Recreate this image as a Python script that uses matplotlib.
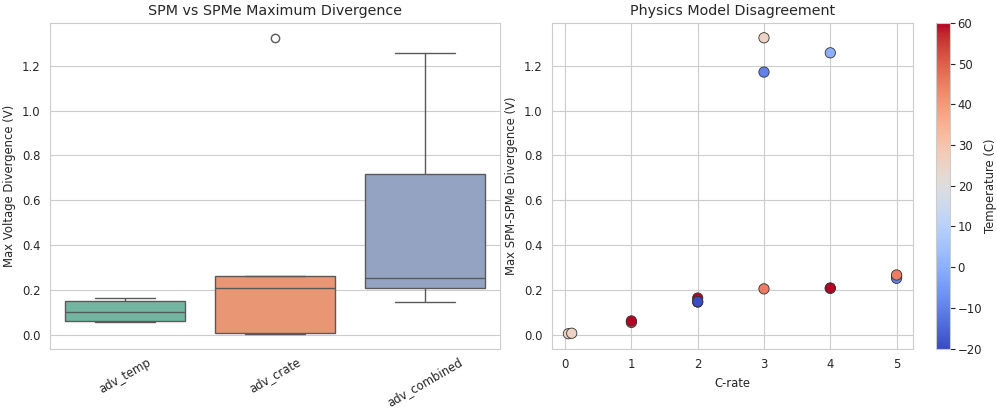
import matplotlib
matplotlib.use("Agg")
import matplotlib.pyplot as plt
import seaborn as sns
import pandas as pd

# one row per simulated case
groups = ['adv_temp'] * 4 + ['adv_crate'] * 5 + ['adv_combined'] * 7
crates = [1, 1, 2, 2,
          0.05, 0.1, 4, 5, 3,
          2, 3, 4, 5, 5, 3, 4]
temps = [50, 60, 60, -20,
         25, 25, 25, 25, 25,
         -20, 45, 60, -10, 45, -10, 0]
divergence = [0.055, 0.062, 0.164, 0.146,
              0.005, 0.007, 0.207, 0.261, 1.325,
              0.148, 0.205, 0.209, 0.252, 0.267, 1.172, 1.258]
order = ['adv_temp', 'adv_crate', 'adv_combined']

df = pd.DataFrame({'group': groups, 'crate': crates, 'temp': temps, 'div': divergence})

sns.set_style("whitegrid")
plt.rcParams['font.size'] = 8.4
plt.rcParams['axes.titlesize'] = 10.3
plt.rcParams['axes.labelsize'] = 8.4
plt.rcParams['xtick.labelsize'] = 8.4
plt.rcParams['ytick.labelsize'] = 8.4

W, H = 997, 408
fig = plt.figure(figsize=(W / 100, H / 100), dpi=100)
bot = 1 - 348.5 / H
hgt = 325.5 / H
ax1 = fig.add_axes([50 / W, bot, 450 / W, hgt])
ax2 = fig.add_axes([552 / W, bot, 361 / W, hgt])
cax = fig.add_axes([936 / W, bot, 14 / W, hgt])

# left: boxplot per study
sns.boxplot(data=df, x='group', y='div', order=order, hue='group', hue_order=order,
            palette='Set2', legend=False, ax=ax1)
ax1.set_title("SPM vs SPMe Maximum Divergence")
ax1.set_xlabel("")
ax1.set_ylabel("Max Voltage Divergence (V)")
ax1.tick_params(axis='x', rotation=30, pad=1.5)

# right: scatter vs C-rate colored by temperature
sc = ax2.scatter(df['crate'], df['div'], c=df['temp'], cmap='coolwarm', vmin=-20, vmax=60,
                 s=55, edgecolors='#333333', linewidths=0.6)
ax2.set_title("Physics Model Disagreement")
ax2.set_xlabel("C-rate")
ax2.set_ylabel("Max SPM-SPMe Divergence (V)")
cb = fig.colorbar(sc, cax=cax)
cb.ax.tick_params(pad=2)
cb.set_label("Temperature (C)", labelpad=1)

plt.savefig("out.png")
